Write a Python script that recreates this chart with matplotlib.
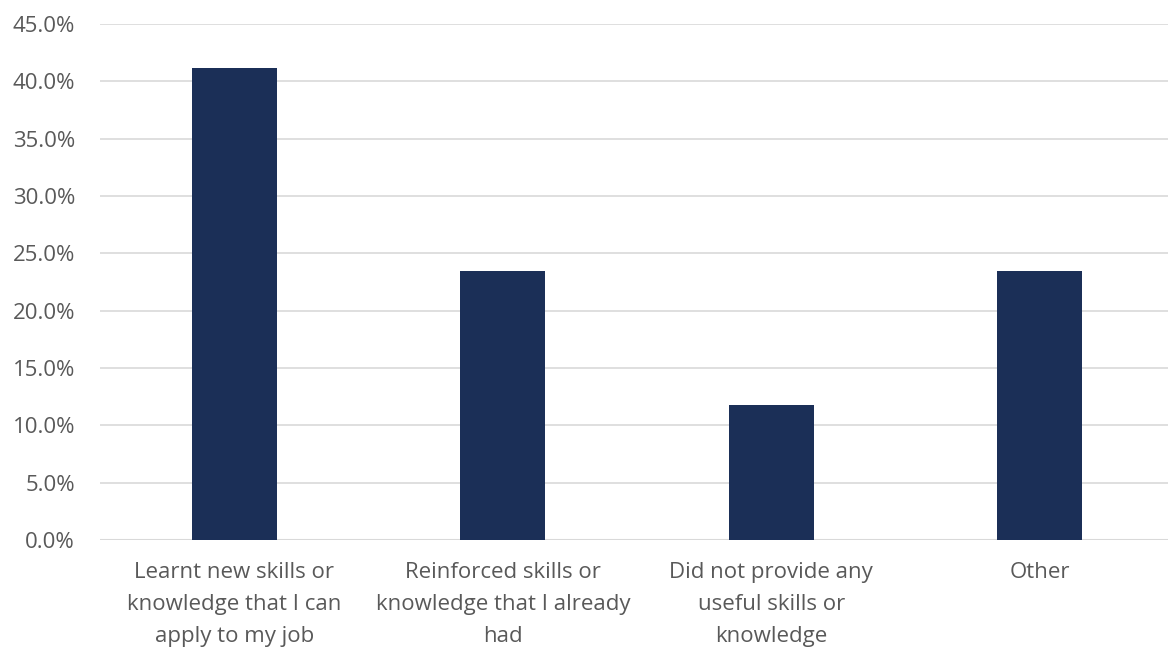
import matplotlib.pyplot as plt
from matplotlib.ticker import FuncFormatter

plt.rcParams['font.family'] = ['Open Sans', 'DejaVu Sans']

categories = ["Learnt new skills or\nknowledge that I can\napply to my job",
              "Reinforced skills or\nknowledge that I already\nhad",
              "Did not provide any\nuseful skills or\nknowledge",
              "Other"]
values = [41.2, 23.5, 11.8, 23.5]

grey = "#595959"
fig = plt.figure(figsize=(11.68, 6.5), dpi=100)
ax = fig.add_axes([100 / 1168, 1 - 540 / 650, 1 - 100 / 1168, 516 / 650])

x = range(len(categories))
ax.bar(x, values, width=0.317, color="#1B2F57", zorder=3)

ax.set_ylim(0, 45)
ax.set_yticks([i * 5 for i in range(10)])
ax.yaxis.set_major_formatter(FuncFormatter(lambda v, p: f"{v:.1f}%"))
ax.set_xlim(-0.5, -0.5 + 1068 / 268.5)
ax.set_xticks(list(x))
ax.set_xticklabels(categories, linespacing=1.68)

ax.grid(axis="y", color="#D9D9D9", linewidth=1.2, zorder=0)
for s in ["top", "right", "left", "bottom"]:
    ax.spines[s].set_visible(False)
ax.axhline(0, color="#D9D9D9", linewidth=1.5, zorder=2)
ax.tick_params(axis="both", length=0, colors=grey, labelsize=16)
ax.tick_params(axis="x", pad=16)
ax.tick_params(axis="y", pad=18)

fig.savefig("out.png", dpi=100)
